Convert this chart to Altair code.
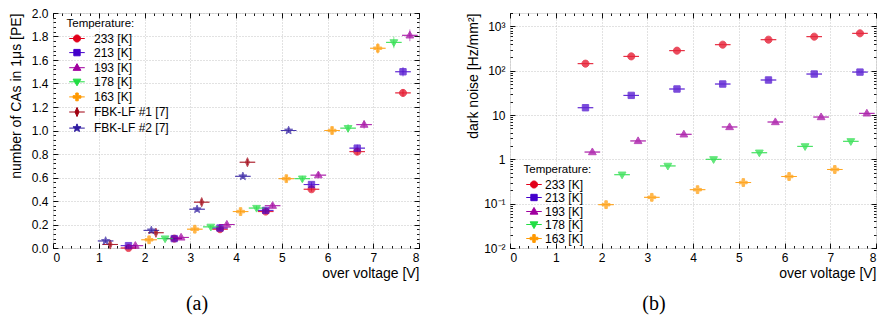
import altair as alt
import pandas as pd

# ---------------- data ----------------
names_all = ["233 [K]", "213 [K]", "193 [K]", "178 [K]", "163 [K]", "FBK-LF #1 [7]", "FBK-LF #2 [7]"]
colors_all = ["#e2001a", "#4400cc", "#a0009f", "#22dd44", "#ff9900", "#a00010", "#2e1aa0"]

# panel (a): number of correlated avalanches in 1 us [PE]
ca_233_x = [1.65, 2.65, 3.65, 4.65, 5.65, 6.65, 7.65]
ca_233_y = [0.0, 0.08, 0.16, 0.31, 0.50, 0.82, 1.32]
ca_233_e = [0.01, 0.01, 0.015, 0.02, 0.02, 0.025, 0.03]

ca_213_x = [1.65, 2.65, 3.65, 4.65, 5.65, 6.65, 7.65]
ca_213_y = [0.02, 0.08, 0.17, 0.32, 0.54, 0.85, 1.50]
ca_213_e = [0.01, 0.01, 0.015, 0.02, 0.02, 0.03, 0.04]

ca_193_x = [1.8, 2.8, 3.8, 4.8, 5.8, 6.8, 7.8]
ca_193_y = [0.02, 0.09, 0.20, 0.36, 0.62, 1.05, 1.81]
ca_193_e = [0.01, 0.01, 0.015, 0.02, 0.025, 0.035, 0.05]

ca_178_x = [2.45, 3.45, 4.45, 5.45, 6.45, 7.45]
ca_178_y = [0.08, 0.18, 0.34, 0.59, 1.02, 1.75]
ca_178_e = [0.01, 0.015, 0.02, 0.025, 0.035, 0.05]

ca_163_x = [2.1, 3.1, 4.1, 5.1, 6.1, 7.1]
ca_163_y = [0.07, 0.16, 0.31, 0.59, 1.00, 1.70]
ca_163_e = [0.01, 0.015, 0.02, 0.025, 0.03, 0.045]

ca_fbk1_x = [1.25, 2.25, 3.25, 4.25]
ca_fbk1_y = [0.03, 0.13, 0.39, 0.73]
ca_fbk1_e = [0.02, 0.02, 0.025, 0.025]

ca_fbk2_x = [1.15, 2.15, 3.15, 4.15, 5.15]
ca_fbk2_y = [0.06, 0.15, 0.33, 0.61, 1.00]
ca_fbk2_e = [0.015, 0.015, 0.02, 0.02, 0.02]

# panel (b): dark noise [Hz/mm^2]
dn_233_x = [1.65, 2.65, 3.65, 4.65, 5.65, 6.65, 7.65]
dn_233_y = [144, 210, 283, 386, 500, 585, 695]

dn_213_x = [1.65, 2.65, 3.65, 4.65, 5.65, 6.65, 7.65]
dn_213_y = [14.6, 27.7, 38.6, 50, 61.6, 84, 93]

dn_193_x = [1.8, 2.8, 3.8, 4.8, 5.8, 6.8, 7.8]
dn_193_y = [1.46, 2.6, 3.67, 5.37, 6.95, 9.0, 10.9]

dn_178_x = [2.45, 3.45, 4.45, 5.45, 6.45, 7.45]
dn_178_y = [0.45, 0.71, 1.0, 1.41, 1.96, 2.55]

dn_163_x = [2.1, 3.1, 4.1, 5.1, 6.1, 7.1]
dn_163_y = [0.095, 0.139, 0.207, 0.30, 0.41, 0.59]

x_err = 0.17  # horizontal error (V)

# ---------------- build tables ----------------
ca_sets = [
    (names_all[0], ca_233_x, ca_233_y, ca_233_e),
    (names_all[1], ca_213_x, ca_213_y, ca_213_e),
    (names_all[2], ca_193_x, ca_193_y, ca_193_e),
    (names_all[3], ca_178_x, ca_178_y, ca_178_e),
    (names_all[4], ca_163_x, ca_163_y, ca_163_e),
    (names_all[5], ca_fbk1_x, ca_fbk1_y, ca_fbk1_e),
    (names_all[6], ca_fbk2_x, ca_fbk2_y, ca_fbk2_e),
]
rows = []
for n, xs, ys, es in ca_sets:
    for x, y, e in zip(xs, ys, es):
        rows.append({"series": n, "x": x, "y": y, "ye": e})
df_a = pd.DataFrame(rows)

dn_sets = [
    (names_all[0], dn_233_x, dn_233_y),
    (names_all[1], dn_213_x, dn_213_y),
    (names_all[2], dn_193_x, dn_193_y),
    (names_all[3], dn_178_x, dn_178_y),
    (names_all[4], dn_163_x, dn_163_y),
]
rows = []
for n, xs, ys in dn_sets:
    for x, y in zip(xs, ys):
        rows.append({"series": n, "x": x, "y": y})
df_b = pd.DataFrame(rows)

# marker shapes (ROOT-like) with a horizontal stroke through them (legend look)
bar = " M-2.2,0L2.2,0"
shapes_all = [
    "M-1,0A1,1,0,1,1,1,0A1,1,0,1,1,-1,0Z" + bar,
    "M-0.9,-0.9H0.9V0.9H-0.9Z" + bar,
    "M0,-1.15L1.1,0.75H-1.1Z" + bar,
    "M0,1.15L1.1,-0.75H-1.1Z" + bar,
    "M-0.35,-1.1H0.35V-0.35H1.1V0.35H0.35V1.1H-0.35V0.35H-1.1V-0.35H-0.35Z" + bar,
    "M0,-1.3L0.55,0L0,1.3L-0.55,0Z" + bar,
    "M0,-1.2L0.294,-0.405L1.141,-0.371L0.476,0.155L0.705,0.971L0,0.5L-0.705,0.971L-0.476,0.155L-1.141,-0.371L-0.294,-0.405Z" + bar,
]

FONT = "Liberation Sans"
W, H = 366, 235
MAJ, MIN = 5, 2.5


def legend(lx, ly, row_pad, lab_off):
    return alt.Legend(title="Temperature:", orient="none", legendX=lx, legendY=ly, titleFont=FONT,
                      titleFontSize=11.5, titleFontWeight="normal", titleColor="black", labelFont=FONT,
                      labelFontSize=12, labelColor="black", symbolSize=50, symbolStrokeWidth=1,
                      symbolOpacity=1, rowPadding=row_pad, padding=2, titlePadding=3,
                      symbolOffset=4.5, labelOffset=lab_off)


def tick_axis(orient, values, size):
    return alt.Axis(orient=orient, values=values, title=None, labels=False, domain=False, grid=False,
                    tickSize=size, offset=-size, tickColor="black", tickWidth=0.9)


def grid_axis(orient, values):
    return alt.Axis(orient=orient, values=values, title=None, labels=False, domain=False, ticks=False,
                    grid=True, gridColor="#c4c4c4", gridDash=[1, 2], gridWidth=1)


def panel(df, n, ydom, ytype, ymajor, yminor, ylabelexpr, ytitle, ytitlepad, leg, with_yerr):
    names = names_all[:n]
    cscale = alt.Scale(domain=names, range=colors_all[:n])
    sscale = alt.Scale(domain=names, range=shapes_all[:n])
    xs = alt.Scale(domain=[0, 8], nice=False, zero=False)
    if ytype == "log":
        ys = alt.Scale(type="log", domain=ydom, nice=False)
    else:
        ys = alt.Scale(domain=ydom, nice=False, zero=False)
    xmajor = list(range(9))
    xminor = [i * 0.2 for i in range(41)]
    base = alt.Chart(df)

    def dummy(xax, yax):
        return base.mark_point(opacity=0).encode(
            x=alt.X("x:Q", scale=xs, axis=xax), y=alt.Y("y:Q", scale=ys, axis=yax))

    layers = [
        dummy(grid_axis("bottom", xmajor), grid_axis("left", ymajor)),
        dummy(tick_axis("top", xminor, MIN), tick_axis("right", yminor, MIN)),
        dummy(tick_axis("top", xmajor, MAJ), tick_axis("right", ymajor, MAJ)),
    ]
    xerr = base.transform_calculate(x_lo=f"datum.x - {x_err}", x_hi=f"datum.x + {x_err}").mark_rule(
        strokeWidth=1, opacity=0.55
    ).encode(
        x=alt.X("x_lo:Q", scale=xs, axis=tick_axis("bottom", xminor, MIN)),
        x2="x_hi:Q",
        y=alt.Y("y:Q", scale=ys, axis=tick_axis("left", yminor, MIN)),
        color=alt.Color("series:N", scale=cscale, legend=leg),
    )
    layers.append(xerr)
    if with_yerr:
        yerr = base.transform_calculate(y_lo="datum.y - datum.ye", y_hi="datum.y + datum.ye").mark_rule(
            strokeWidth=1, opacity=0.55
        ).encode(
            x=alt.X("x:Q", scale=xs, axis=None),
            y=alt.Y("y_lo:Q", scale=ys, axis=None),
            y2="y_hi:Q",
            color=alt.Color("series:N", scale=cscale, legend=leg),
        )
        layers.append(yerr)
    major = dict(tickSize=MAJ, offset=-MAJ, domain=False, grid=False, tickColor="black", tickWidth=0.9,
                 labelFont=FONT, labelFontSize=12, labelColor="black", titleFont=FONT, titleFontSize=14,
                 titleFontWeight="normal", titleColor="black")
    pts = base.mark_point(filled=True, size=50, strokeWidth=1).encode(
        x=alt.X("x:Q", scale=xs, axis=alt.Axis(values=xmajor, format="d", orient="bottom",
                                               title="over voltage [V]", titleAnchor="end", titleAlign="right",
                                               titlePadding=3, labelPadding=4, **major)),
        y=alt.Y("y:Q", scale=ys, axis=alt.Axis(values=ymajor, orient="left", title=ytitle, titleAnchor="end",
                                               labelExpr=ylabelexpr, titlePadding=ytitlepad, labelPadding=5,
                                               **major)),
        color=alt.Color("series:N", scale=cscale, legend=leg),
        stroke=alt.Stroke("series:N", scale=cscale, legend=leg),
        shape=alt.Shape("series:N", scale=sscale, legend=leg),
    )
    layers.append(pts)
    return alt.layer(*layers).resolve_axis(x="independent", y="independent").properties(width=W, height=H)


def caption(txt):
    return alt.TitleParams(txt, orient="bottom", anchor="middle", dx=-39, offset=14,
                           font="Liberation Serif", fontSize=20, fontWeight="normal", color="black")


left = panel(df_a, 7, [0, 2.0], "linear", [i * 0.2 for i in range(11)], [i * 0.04 for i in range(51)],
             "format(datum.value, '.1f')", "number of CAs in 1\u03bcs [PE]", 8,
             legend(11.5, 3, 2.1, 11), True)
left = left.properties(title=caption("(a)"))

log_minor = [m * 10 ** e for e in range(-2, 4) for m in range(1, 10) if m * 10 ** e <= 2000]
log_label = ("datum.value >= 999 ? '10\u00b3' : datum.value >= 99 ? '10\u00b2' : datum.value >= 9 ? '10' : "
             "datum.value >= 0.9 ? '1' : datum.value >= 0.09 ? '10\u207b\u00b9' : '10\u207b\u00b2'")
right = panel(df_b, 5, [0.01, 2000], "log", [0.01, 0.1, 1, 10, 100, 1000], log_minor, log_label,
              "dark noise [Hz/mm\u00b2]", 3, legend(11.5, 149, 1.0, 5), False)
right = right.properties(title=caption("(b)"))

chart = alt.hconcat(left, right, spacing=45).resolve_scale(
    color="independent", shape="independent", stroke="independent"
).properties(
    padding={"left": 0, "top": -2, "right": 0, "bottom": 0}
).configure_view(stroke="black", strokeWidth=1.5).configure(background="white")

chart.save("out.html", embed_options={"renderer": "svg", "actions": False})
